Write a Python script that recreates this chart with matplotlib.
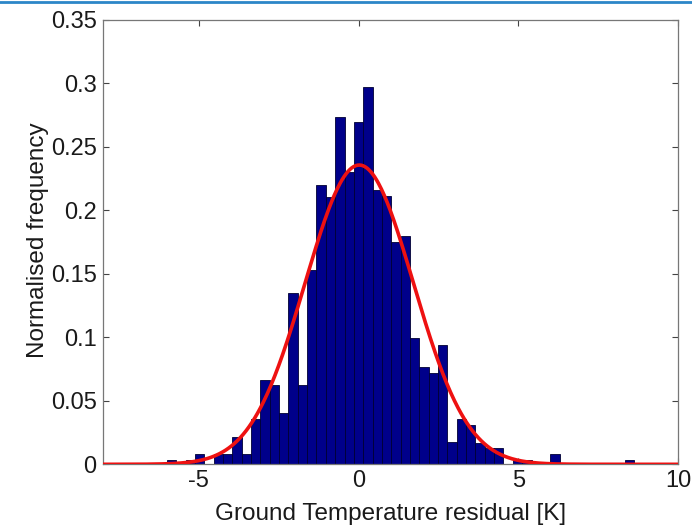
import numpy as np
import matplotlib
matplotlib.use('Agg')
import matplotlib.pyplot as plt
from matplotlib.lines import Line2D

plt.rcParams['font.family'] = ['Liberation Sans', 'DejaVu Sans']
plt.rcParams['axes.unicode_minus'] = False

# histogram: 50 bins starting at bin_start, each bin_width wide
bin_start = -6.0
bin_width = 0.2926
heights = [
  0.0034, 0.0, 0.0034, 0.0079, 0.0, 0.0079, 0.0079, 0.0217, 0.0079, 0.0354,
  0.0664, 0.0624, 0.0401, 0.1346, 0.0624, 0.1530, 0.2199, 0.2107, 0.2737, 0.2304,
  0.2698, 0.2968, 0.2160, 0.2113, 0.1753, 0.1798, 0.0992, 0.0764, 0.0717, 0.0939,
  0.0172, 0.0354, 0.0310, 0.0170, 0.0126, 0.0126, 0.0, 0.0034, 0.0034, 0.0,
  0.0, 0.0081, 0.0, 0.0, 0.0, 0.0, 0.0, 0.0, 0.0, 0.0034,
]

# gaussian fit parameters
fit_mean = 0.02
fit_std = 1.693

x_ticks = [-5, 0, 5, 10]
y_ticks = [0, 0.05, 0.1, 0.15, 0.2, 0.25, 0.3, 0.35]
y_tick_labels = ['0', '0.05', '0.1', '0.15', '0.2', '0.25', '0.3', '0.35']

fig = plt.figure(figsize=(6.92, 5.28), dpi=100)
ax = fig.add_axes([0.1488, 0.1206, 0.8312, 0.8419])

# bars
left_edges = bin_start + bin_width * np.arange(len(heights))
ax.bar(left_edges, heights, width=bin_width, align='edge',
       color='#00008a', edgecolor='#000033', linewidth=0.6, zorder=2)

# fitted normal curve
xs = np.linspace(-8, 10, 600)
pdf = np.exp(-0.5 * ((xs - fit_mean) / fit_std) ** 2) / (fit_std * np.sqrt(2 * np.pi))
ax.plot(xs, pdf, color='#ee1111', linewidth=2.6, zorder=3, solid_capstyle='butt')

ax.set_xlim(-8, 10)
ax.set_ylim(0, 0.35)
ax.set_xticks(x_ticks)
ax.set_yticks(y_ticks)
ax.set_yticklabels(y_tick_labels)

ax.tick_params(direction='in', top=True, right=True, length=4, width=0.8,
               colors='#444444', labelcolor='#1a1a1a', labelsize=17)
ax.tick_params(axis='x', pad=4)
ax.tick_params(axis='y', pad=4.5)
for s in ax.spines.values():
  s.set_color('#777777')
  s.set_linewidth(0.9)

ax.set_xlabel('Ground Temperature residual [K]', fontsize=17.5, color='#1a1a1a')
ax.set_ylabel('Normalised frequency', fontsize=17.5, color='#1a1a1a')
ax.xaxis.set_label_coords(0.5, -0.086)
ax.yaxis.set_label_coords(-0.094, 0.505)

# thin blue strip along the top of the image
fig.add_artist(Line2D([0, 1], [0.997, 0.997], transform=fig.transFigure,
                      color='#2c86c8', linewidth=2))

plt.savefig('out.png', dpi=100)
